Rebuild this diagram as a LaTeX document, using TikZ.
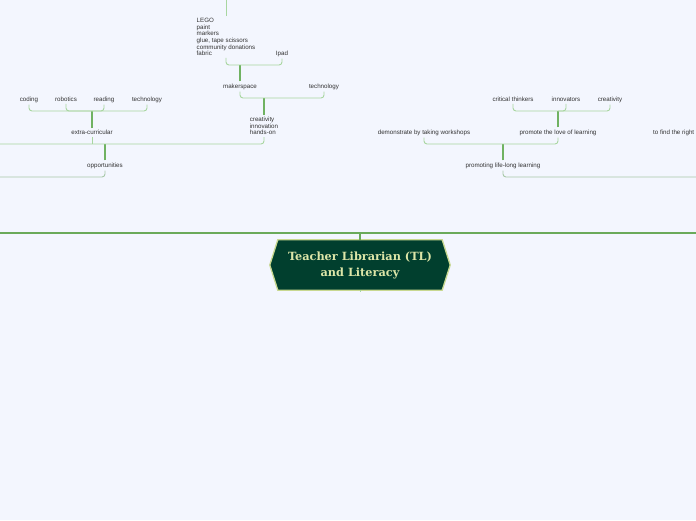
\documentclass[tikz,border=0pt]{standalone}
\usepackage{fontspec}
\setmainfont{Liberation Sans}
\newfontfamily\titlefont{DejaVu Serif}
\usetikzlibrary{calc}
\definecolor{bgc}{RGB}{243,246,254}
\definecolor{mainln}{RGB}{106,170,90}
\definecolor{thickln}{RGB}{112,178,98}
\definecolor{thinln}{RGB}{168,214,160}
\definecolor{greyln}{RGB}{168,200,168}
\definecolor{txt}{RGB}{50,50,50}
\definecolor{hexfill}{RGB}{1,63,46}
\definecolor{hexborder}{RGB}{200,216,144}
\definecolor{hextext}{RGB}{221,230,168}
\tikzset{
  lbl/.style={font=\fontsize{6.2}{6.6}\selectfont, text=txt, inner xsep=0pt, inner ysep=2pt, align=left},
  mainline/.style={draw=mainln, line width=2pt},
  trunk/.style={draw=thickln, line width=1.2pt},
  twig/.style={draw=thinln, line width=0.9pt, rounded corners=3pt},
  greytwig/.style={draw=greyln, line width=0.9pt, rounded corners=3pt},
}
\begin{document}
\begin{tikzpicture}[x=1pt,y=-1pt]
\fill[bgc] (0,0) rectangle (696,520);
\useasboundingbox (0,0) rectangle (696,520);

% central node
\node[minimum width=180pt, minimum height=50pt, inner sep=0pt] (tl) at (360,265) {};
\draw[fill=hexfill, draw=hexborder, line width=1.3pt]
  (tl.west) -- ($(tl.north west)+(8,0)$) -- ($(tl.north east)+(-8,0)$) -- (tl.east)
  -- ($(tl.south east)+(-8,0)$) -- ($(tl.south west)+(8,0)$) -- cycle;
\node[font=\titlefont\bfseries\fontsize{11.3}{16}\selectfont, text=hextext, align=center] (tltext) at (tl.center) {Teacher Librarian (TL)\\and Literacy};

% main line
\coordinate (topL) at (0,233);
\coordinate (topR) at (696,233);
\draw[mainline] (topL) -- (topR);
\draw[mainline, line width=1.5pt] (tl.north) -- (tl.north |- topL);
\draw[draw=thinln, line width=0.8pt] (tl.south) -- ++(0,2);

% ---------- left branch ----------
\node[lbl] (opp) at (105,165.5) {opportunities};
\coordinate (oppL) at (0,177);
\draw[greytwig] (opp.south) |- (oppL);
\coordinate (b3) at (105,144);
\draw[trunk] (opp.north) -- (b3);
\coordinate (b3L) at (0,144);
\node[lbl] (ec) at (92,132.5) {extra-curricular};
\node[lbl] (cre) at (264,126) {creativity\\innovation\\hands-on};
\draw[twig] (b3L) -| (cre.south);
\draw[draw=thinln, line width=0.9pt] (ec.south) -- (ec.south |- b3L);

% extra-curricular
\node[lbl] (coding) at (29,99.5) {coding};
\node[lbl] (rob) at (66,99.5) {robotics};
\node[lbl] (read) at (104,99.5) {reading};
\node[lbl] (tech1) at (147,99.5) {technology};
\coordinate (b1) at (92,111);
\draw[trunk] (ec.north) -- (b1);
\draw[twig] (coding.south) |- (b1) -| (tech1.south);
\draw[twig] (rob.south) |- (b1);
\draw[twig] (read.south) |- (b1);

% creativity -> makerspace
\node[lbl] (ms) at (240,86.5) {makerspace};
\node[lbl] (tech2) at (324,86.5) {technology};
\coordinate (b2) at (264,98);
\draw[trunk] (cre.north) -- (b2);
\draw[twig] (ms.south) |- (b2) -| (tech2.south);

% makerspace
\node[lbl] (items) at (226,37) {LEGO\\paint\\markers\\glue, tape scissors\\community donations\\fabric};
\node[lbl] (ipad) at (282,53.5) {Ipad};
\coordinate (b0) at (240,65);
\draw[trunk] (ms.north) -- (b0);
\draw[twig] (items.south) |- (b0) -| (ipad.south);
\coordinate (itemsTop) at (226,0);
\draw[draw=thinln, line width=0.9pt] (items.north) -- (itemsTop);

% ---------- right branch ----------
\node[lbl] (pll) at (503,165.5) {promoting life-long learning};
\coordinate (pllR) at (696,177);
\draw[greytwig] (pll.south) |- (pllR);
\node[lbl] (demo) at (424,132.5) {demonstrate by taking workshops};
\node[lbl] (love) at (558,132.5) {promote the love of learning};
\coordinate (b4) at (503,144);
\draw[trunk] (pll.north) -- (b4);
\draw[twig] (demo.south) |- (b4) -| (love.south);

\node[lbl] (crit) at (513,99.5) {critical thinkers};
\node[lbl] (innov) at (566,99.5) {innovators};
\node[lbl] (crea) at (610,99.5) {creativity};
\coordinate (b5) at (558,111);
\draw[trunk] (love.north) -- (b5);
\draw[twig] (crit.south) |- (b5) -| (crea.south);
\draw[twig] (innov.south) |- (b5);

\node[lbl, anchor=west] (find) at (653,132.5) {to find the right};
\end{tikzpicture}
\end{document}
